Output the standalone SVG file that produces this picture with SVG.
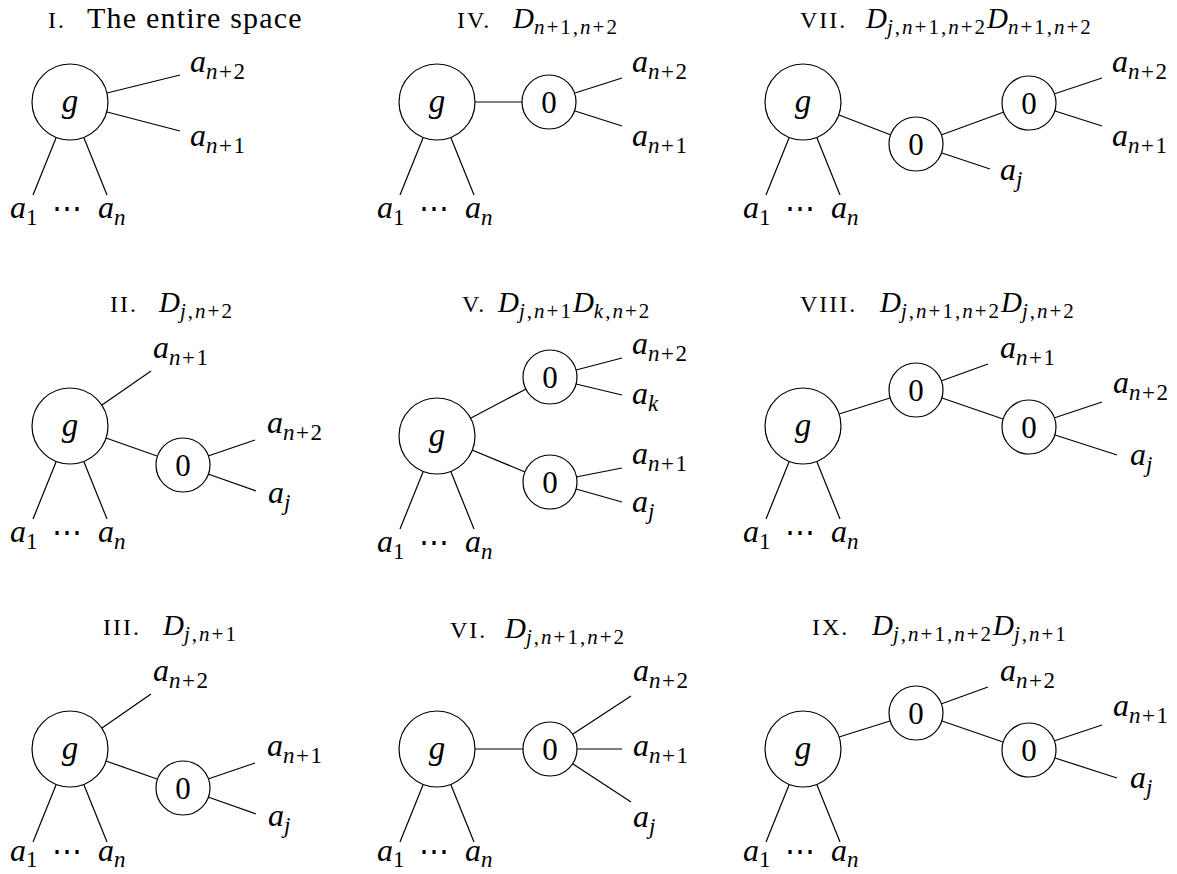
<svg xmlns="http://www.w3.org/2000/svg" width="1177" height="874" viewBox="0 0 1177 874">
<style>
.bg{fill:#fff}
.n{fill:#fff;stroke:#000;stroke-width:1.2}
.e line{stroke:#000;stroke-width:1.2}
.L{font-family:"Liberation Serif","DejaVu Serif",serif;font-style:italic;font-size:32px;fill:#000}
.si{font-style:italic;font-size:23px;letter-spacing:1.5px}
.sr{font-style:normal;font-size:23px;letter-spacing:1.5px}
.z{font-family:"Liberation Serif",serif;font-size:31px;text-anchor:middle;fill:#000}
.g{font-family:"Liberation Serif",serif;font-style:italic;font-size:33px;text-anchor:middle;fill:#000}
.dots{font-family:"DejaVu Serif",serif;font-size:30px;fill:#000}
.T{font-family:"Liberation Serif",serif;font-size:30px;fill:#000}
.body{letter-spacing:1.2px}
.num{font-size:24px;letter-spacing:2px}
.D{font-style:italic;font-size:29px;letter-spacing:0}
.ti{font-style:italic;font-size:21px;letter-spacing:2px}
.tr{font-style:normal;font-size:21px;letter-spacing:2px}
</style>
<rect class="bg" width="1177" height="874"/>

<!-- Panel I -->
<g id="panel-1">
<text class="T" y="28"><tspan class="num" x="48">I.</tspan><tspan class="body" x="87">The entire space</tspan></text>
<g class="e" id="edges-1">
<line x1="107" y1="93" x2="180" y2="75"/><line x1="107" y1="112" x2="180" y2="131"/>
<line x1="56" y1="138" x2="33" y2="195"/><line x1="84" y1="138" x2="107" y2="195"/>
</g>
<g id="n1-g"><circle class="n" cx="70" cy="102" r="38"/><text class="g" x="70" y="112">g</text></g>
<text class="L" x="190" y="72">a<tspan class="si" dy="7">n</tspan><tspan class="sr">+2</tspan></text>
<text class="L" x="190" y="146">a<tspan class="si" dy="7">n</tspan><tspan class="sr">+1</tspan></text>
<text class="L" x="10" y="218">a<tspan class="sr" dy="7">1</tspan></text>
<text class="dots" x="52" y="218">⋯</text>
<text class="L" x="98" y="218">a<tspan class="si" dy="7">n</tspan></text>
</g>

<!-- Panel II -->
<g id="panel-2">
<text class="T" y="312"><tspan class="num" x="110">II.</tspan><tspan class="D" x="159">D</tspan><tspan class="ti" dy="6">j</tspan><tspan class="tr">,</tspan><tspan class="ti">n</tspan><tspan class="tr">+2</tspan></text>
<g class="e" id="edges-2">
<line x1="102" y1="405" x2="151" y2="371"/><line x1="106" y1="438" x2="157" y2="456"/>
<line x1="208" y1="456" x2="255" y2="440"/><line x1="208" y1="474" x2="256" y2="491"/>
<line x1="56" y1="462" x2="33" y2="519"/><line x1="84" y1="462" x2="107" y2="519"/>
</g>
<g id="n2-g"><circle class="n" cx="70" cy="426" r="38"/><text class="g" x="70" y="436">g</text></g>
<g id="n2-0"><circle class="n" cx="183" cy="465" r="27"/><text class="z" x="183" y="476">0</text></g>
<text class="L" x="153" y="358">a<tspan class="si" dy="7">n</tspan><tspan class="sr">+1</tspan></text>
<text class="L" x="267" y="433">a<tspan class="si" dy="7">n</tspan><tspan class="sr">+2</tspan></text>
<text class="L" x="268" y="503">a<tspan class="si" dy="7">j</tspan></text>
<text class="L" x="10" y="542">a<tspan class="sr" dy="7">1</tspan></text>
<text class="dots" x="52" y="542">⋯</text>
<text class="L" x="98" y="542">a<tspan class="si" dy="7">n</tspan></text>
</g>

<!-- Panel III -->
<g id="panel-3">
<text class="T" y="635"><tspan class="num" x="103">III.</tspan><tspan class="D" x="163">D</tspan><tspan class="ti" dy="6">j</tspan><tspan class="tr">,</tspan><tspan class="ti">n</tspan><tspan class="tr">+1</tspan></text>
<g class="e" id="edges-3">
<line x1="102" y1="728" x2="151" y2="694"/><line x1="106" y1="761" x2="157" y2="779"/>
<line x1="208" y1="779" x2="255" y2="763"/><line x1="208" y1="797" x2="256" y2="814"/>
<line x1="56" y1="785" x2="33" y2="842"/><line x1="84" y1="785" x2="107" y2="842"/>
</g>
<g id="n3-g"><circle class="n" cx="70" cy="749" r="38"/><text class="g" x="70" y="759">g</text></g>
<g id="n3-0"><circle class="n" cx="183" cy="788" r="27"/><text class="z" x="183" y="799">0</text></g>
<text class="L" x="153" y="681">a<tspan class="si" dy="7">n</tspan><tspan class="sr">+2</tspan></text>
<text class="L" x="267" y="756">a<tspan class="si" dy="7">n</tspan><tspan class="sr">+1</tspan></text>
<text class="L" x="268" y="826">a<tspan class="si" dy="7">j</tspan></text>
<text class="L" x="10" y="861">a<tspan class="sr" dy="6">1</tspan></text>
<text class="dots" x="52" y="861">⋯</text>
<text class="L" x="98" y="861">a<tspan class="si" dy="6">n</tspan></text>
</g>

<!-- Panel IV -->
<g id="panel-4">
<text class="T" y="28"><tspan class="num" x="457">IV.</tspan><tspan class="D" x="513">D</tspan><tspan class="ti" dy="6">n</tspan><tspan class="tr">+1,</tspan><tspan class="ti">n</tspan><tspan class="tr">+2</tspan></text>
<g class="e" id="edges-4">
<line x1="475" y1="102" x2="522" y2="102"/>
<line x1="575" y1="93" x2="622" y2="78"/><line x1="575" y1="111" x2="622" y2="126"/>
<line x1="423" y1="138" x2="400" y2="195"/><line x1="451" y1="138" x2="474" y2="195"/>
</g>
<g id="n4-g"><circle class="n" cx="437" cy="102" r="38"/><text class="g" x="437" y="112">g</text></g>
<g id="n4-0"><circle class="n" cx="549" cy="102" r="27"/><text class="z" x="549" y="113">0</text></g>
<text class="L" x="632" y="72">a<tspan class="si" dy="7">n</tspan><tspan class="sr">+2</tspan></text>
<text class="L" x="632" y="146">a<tspan class="si" dy="7">n</tspan><tspan class="sr">+1</tspan></text>
<text class="L" x="377" y="218">a<tspan class="sr" dy="7">1</tspan></text>
<text class="dots" x="419" y="218">⋯</text>
<text class="L" x="465" y="218">a<tspan class="si" dy="7">n</tspan></text>
</g>

<!-- Panel V -->
<g id="panel-5">
<text class="T" y="312"><tspan class="num" x="462">V.</tspan><tspan class="D" x="498">D</tspan><tspan class="ti" dy="6">j</tspan><tspan class="tr">,</tspan><tspan class="ti">n</tspan><tspan class="tr">+1</tspan><tspan class="D" dy="-6">D</tspan><tspan class="ti" dy="6">k</tspan><tspan class="tr">,</tspan><tspan class="ti">n</tspan><tspan class="tr">+2</tspan></text>
<g class="e" id="edges-5">
<line x1="471" y1="418" x2="526" y2="389"/><line x1="472" y1="450" x2="525" y2="472"/>
<line x1="576" y1="370" x2="622" y2="358"/><line x1="576" y1="384" x2="622" y2="395"/>
<line x1="576" y1="477" x2="622" y2="468"/><line x1="576" y1="489" x2="622" y2="502"/>
<line x1="423" y1="472" x2="400" y2="529"/><line x1="451" y1="472" x2="474" y2="529"/>
</g>
<g id="n5-g"><circle class="n" cx="437" cy="436" r="38"/><text class="g" x="437" y="446">g</text></g>
<g id="n5-0a"><circle class="n" cx="550" cy="377" r="27"/><text class="z" x="550" y="388">0</text></g>
<g id="n5-0b"><circle class="n" cx="550" cy="482" r="27"/><text class="z" x="550" y="493">0</text></g>
<text class="L" x="632" y="354">a<tspan class="si" dy="7">n</tspan><tspan class="sr">+2</tspan></text>
<text class="L" x="632" y="404">a<tspan class="si" dy="7">k</tspan></text>
<text class="L" x="632" y="464">a<tspan class="si" dy="7">n</tspan><tspan class="sr">+1</tspan></text>
<text class="L" x="632" y="512">a<tspan class="si" dy="7">j</tspan></text>
<text class="L" x="377" y="552">a<tspan class="sr" dy="7">1</tspan></text>
<text class="dots" x="419" y="552">⋯</text>
<text class="L" x="465" y="552">a<tspan class="si" dy="7">n</tspan></text>
</g>

<!-- Panel VI -->
<g id="panel-6">
<text class="T" y="638"><tspan class="num" x="450">VI.</tspan><tspan class="D" x="505">D</tspan><tspan class="ti" dy="6">j</tspan><tspan class="tr">,</tspan><tspan class="ti">n</tspan><tspan class="tr">+1,</tspan><tspan class="ti">n</tspan><tspan class="tr">+2</tspan></text>
<g class="e" id="edges-6">
<line x1="475" y1="749" x2="523" y2="749"/>
<line x1="573" y1="734" x2="631" y2="696"/><line x1="577" y1="749" x2="622" y2="749"/><line x1="573" y1="764" x2="631" y2="802"/>
<line x1="423" y1="785" x2="400" y2="842"/><line x1="451" y1="785" x2="474" y2="842"/>
</g>
<g id="n6-g"><circle class="n" cx="437" cy="749" r="38"/><text class="g" x="437" y="759">g</text></g>
<g id="n6-0"><circle class="n" cx="550" cy="749" r="27"/><text class="z" x="550" y="760">0</text></g>
<text class="L" x="633" y="681">a<tspan class="si" dy="7">n</tspan><tspan class="sr">+2</tspan></text>
<text class="L" x="633" y="756">a<tspan class="si" dy="7">n</tspan><tspan class="sr">+1</tspan></text>
<text class="L" x="633" y="827">a<tspan class="si" dy="7">j</tspan></text>
<text class="L" x="377" y="861">a<tspan class="sr" dy="6">1</tspan></text>
<text class="dots" x="419" y="861">⋯</text>
<text class="L" x="465" y="861">a<tspan class="si" dy="6">n</tspan></text>
</g>

<!-- Panel VII -->
<g id="panel-7">
<text class="T" y="28"><tspan class="num" x="800">VII.</tspan><tspan class="D" x="866">D</tspan><tspan class="ti" dy="6">j</tspan><tspan class="tr">,</tspan><tspan class="ti">n</tspan><tspan class="tr">+1,</tspan><tspan class="ti">n</tspan><tspan class="tr">+2</tspan><tspan class="D" dy="-6">D</tspan><tspan class="ti" dy="6">n</tspan><tspan class="tr">+1,</tspan><tspan class="ti">n</tspan><tspan class="tr">+2</tspan></text>
<g class="e" id="edges-7">
<line x1="839" y1="115" x2="891" y2="135"/><line x1="941" y1="135" x2="1004" y2="112"/>
<line x1="942" y1="153" x2="990" y2="169"/>
<line x1="1054" y1="94" x2="1102" y2="78"/><line x1="1055" y1="111" x2="1102" y2="126"/>
<line x1="789" y1="138" x2="766" y2="195"/><line x1="817" y1="138" x2="840" y2="195"/>
</g>
<g id="n7-g"><circle class="n" cx="803" cy="102" r="38"/><text class="g" x="803" y="112">g</text></g>
<g id="n7-0a"><circle class="n" cx="916" cy="144" r="27"/><text class="z" x="916" y="155">0</text></g>
<g id="n7-0b"><circle class="n" cx="1029" cy="103" r="27"/><text class="z" x="1029" y="114">0</text></g>
<text class="L" x="1112" y="72">a<tspan class="si" dy="7">n</tspan><tspan class="sr">+2</tspan></text>
<text class="L" x="1112" y="146">a<tspan class="si" dy="7">n</tspan><tspan class="sr">+1</tspan></text>
<text class="L" x="1000" y="180">a<tspan class="si" dy="7">j</tspan></text>
<text class="L" x="743" y="218">a<tspan class="sr" dy="7">1</tspan></text>
<text class="dots" x="785" y="218">⋯</text>
<text class="L" x="831" y="218">a<tspan class="si" dy="7">n</tspan></text>
</g>

<!-- Panel VIII -->
<g id="panel-8">
<text class="T" y="312"><tspan class="num" x="800">VIII.</tspan><tspan class="D" x="880">D</tspan><tspan class="ti" dy="6">j</tspan><tspan class="tr">,</tspan><tspan class="ti">n</tspan><tspan class="tr">+1,</tspan><tspan class="ti">n</tspan><tspan class="tr">+2</tspan><tspan class="D" dy="-6">D</tspan><tspan class="ti" dy="6">j</tspan><tspan class="tr">,</tspan><tspan class="ti">n</tspan><tspan class="tr">+2</tspan></text>
<g class="e" id="edges-8">
<line x1="839" y1="414" x2="890" y2="398"/><line x1="941" y1="381" x2="988" y2="364"/>
<line x1="942" y1="398" x2="1003" y2="419"/>
<line x1="1054" y1="418" x2="1102" y2="402"/><line x1="1055" y1="435" x2="1117" y2="455"/>
<line x1="789" y1="462" x2="766" y2="519"/><line x1="817" y1="462" x2="840" y2="519"/>
</g>
<g id="n8-g"><circle class="n" cx="803" cy="426" r="38"/><text class="g" x="803" y="436">g</text></g>
<g id="n8-0a"><circle class="n" cx="916" cy="390" r="27"/><text class="z" x="916" y="401">0</text></g>
<g id="n8-0b"><circle class="n" cx="1029" cy="427" r="27"/><text class="z" x="1029" y="438">0</text></g>
<text class="L" x="1000" y="358">a<tspan class="si" dy="7">n</tspan><tspan class="sr">+1</tspan></text>
<text class="L" x="1113" y="393">a<tspan class="si" dy="7">n</tspan><tspan class="sr">+2</tspan></text>
<text class="L" x="1130" y="465">a<tspan class="si" dy="7">j</tspan></text>
<text class="L" x="743" y="542">a<tspan class="sr" dy="7">1</tspan></text>
<text class="dots" x="785" y="542">⋯</text>
<text class="L" x="831" y="542">a<tspan class="si" dy="7">n</tspan></text>
</g>

<!-- Panel IX -->
<g id="panel-9">
<text class="T" y="635"><tspan class="num" x="812">IX.</tspan><tspan class="D" x="872">D</tspan><tspan class="ti" dy="6">j</tspan><tspan class="tr">,</tspan><tspan class="ti">n</tspan><tspan class="tr">+1,</tspan><tspan class="ti">n</tspan><tspan class="tr">+2</tspan><tspan class="D" dy="-6">D</tspan><tspan class="ti" dy="6">j</tspan><tspan class="tr">,</tspan><tspan class="ti">n</tspan><tspan class="tr">+1</tspan></text>
<g class="e" id="edges-9">
<line x1="839" y1="737" x2="890" y2="721"/><line x1="941" y1="704" x2="988" y2="687"/>
<line x1="942" y1="721" x2="1003" y2="742"/>
<line x1="1054" y1="741" x2="1102" y2="725"/><line x1="1055" y1="758" x2="1117" y2="778"/>
<line x1="789" y1="785" x2="766" y2="842"/><line x1="817" y1="785" x2="840" y2="842"/>
</g>
<g id="n9-g"><circle class="n" cx="803" cy="749" r="38"/><text class="g" x="803" y="759">g</text></g>
<g id="n9-0a"><circle class="n" cx="916" cy="713" r="27"/><text class="z" x="916" y="724">0</text></g>
<g id="n9-0b"><circle class="n" cx="1029" cy="750" r="27"/><text class="z" x="1029" y="761">0</text></g>
<text class="L" x="1000" y="681">a<tspan class="si" dy="7">n</tspan><tspan class="sr">+2</tspan></text>
<text class="L" x="1113" y="716">a<tspan class="si" dy="7">n</tspan><tspan class="sr">+1</tspan></text>
<text class="L" x="1130" y="788">a<tspan class="si" dy="7">j</tspan></text>
<text class="L" x="743" y="861">a<tspan class="sr" dy="6">1</tspan></text>
<text class="dots" x="785" y="861">⋯</text>
<text class="L" x="831" y="861">a<tspan class="si" dy="6">n</tspan></text>
</g>
</svg>
